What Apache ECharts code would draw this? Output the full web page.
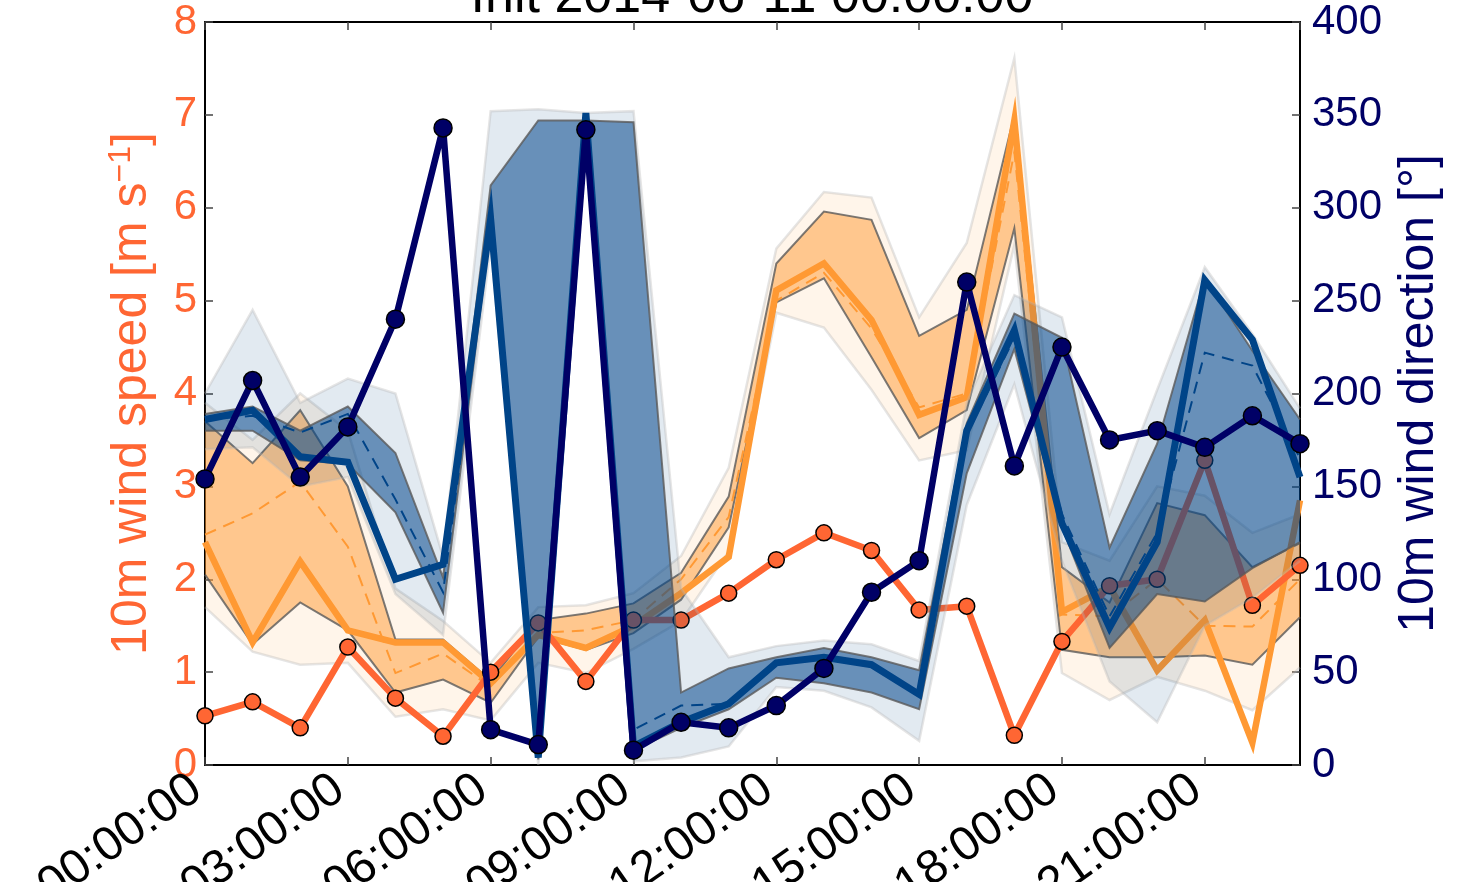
<!DOCTYPE html>
<html>
<head>
<meta charset="utf-8">
<script src="https://cdn.jsdelivr.net/npm/echarts@6/dist/echarts.min.js"></script>
<style>
html, body { margin: 0; background: #fff; }
#chart { width: 1479px; height: 882px; }
</style>
</head>
<body>
<div id="chart"></div>
<script>
// hours since init
const hours = [0, 1, 2, 3, 4, 5, 6, 7, 8, 9, 10, 11, 12, 13, 14, 15, 16, 17, 18, 19, 20, 21, 22, 23]

// 10m wind speed [m/s]
const obsSpeed = [0.53, 0.68, 0.40, 1.27, 0.72, 0.31, 1.0, 1.53, 0.90, 1.56, 1.56, 1.85, 2.21, 2.50, 2.31, 1.67, 1.71, 0.32, 1.33, 1.93, 2.0, 3.28, 1.72, 2.15]
const fcSpeed = [2.4, 1.32, 2.19, 1.45, 1.32, 1.32, 0.88, 1.4, 1.26, 1.5, 1.85, 2.24, 5.11, 5.4, 4.79, 3.77, 3.96, 6.94, 1.65, 1.92, 1.02, 1.56, 0.24, 2.85]
const fcSpeedMean = [2.48, 2.71, 3.05, 2.35, 0.99, 1.2, 0.84, 1.42, 1.45, 1.56, 2.0, 2.67, 5.0, 5.3, 4.7, 3.85, 4.0, 6.6, 1.62, 1.6, 2.0, 1.5, 1.49, 2.0]
const fcSpeedLo = [2.05, 1.3, 1.75, 1.45, 0.78, 0.92, 0.67, 1.38, 1.24, 1.42, 1.78, 2.56, 4.98, 5.24, 4.39, 3.52, 3.82, 5.78, 1.24, 1.16, 1.16, 1.18, 1.08, 1.59]
const fcSpeedHi = [3.7, 3.25, 3.82, 3.0, 1.35, 1.35, 0.91, 1.56, 1.63, 1.74, 2.07, 2.89, 5.4, 5.96, 5.87, 4.62, 4.9, 7.0, 2.13, 1.75, 2.82, 2.69, 2.13, 2.39]
const fcSpeedMin = [1.7, 1.22, 1.08, 1.1, 0.52, 0.6, 0.48, 1.1, 0.99, 1.25, 1.55, 2.3, 4.87, 4.71, 4.04, 3.28, 3.39, 5.6, 0.99, 0.7, 0.95, 0.8, 0.59, 1.05]
const fcSpeedMax = [3.9, 3.5, 4.0, 3.6, 1.9, 1.55, 1.1, 1.7, 1.72, 1.85, 2.25, 3.2, 5.56, 6.17, 6.11, 4.82, 5.62, 7.61, 2.4, 2.2, 3.0, 2.9, 2.5, 2.7]

// 10m wind direction [deg]
const obsDir = [154, 207, 155, 182, 240, 343, 19, 11, 342, 8, 23, 20, 32, 52, 93, 110, 260, 161, 225, 175, 180, 171, 188, 173]
const fcDir = [186, 191, 166, 163, 100, 108, 294, 4, 351, 10, 23, 33, 55, 58, 54, 38, 180, 234, 130, 74, 120, 261, 229, 155]
const fcDirMean = [186, 188, 179, 189, 143, 93, 290, 4, 345, 19, 32, 33, 55, 57, 54, 38, 178, 230, 135, 80, 125, 222, 215, 165]
const fcDirLo = [180, 180, 164, 162, 136, 82, 290, 3, 340, 8, 20, 30, 47, 44, 39, 30, 157, 224, 128, 63, 92, 88, 106, 120]
const fcDirHi = [189, 193, 180, 193, 168, 101, 312, 347, 347, 346, 39, 52, 58, 63, 58, 51, 184, 243, 230, 117, 173, 262, 223, 186]
const fcDirMin = [170, 171, 150, 155, 92, 70, 280, 0, 333, 2, 4, 10, 42, 40, 31, 13, 140, 205, 110, 45, 23, 75, 90, 110]
const fcDirMax = [200, 245, 195, 208, 200, 112, 352, 353, 351, 352, 95, 58, 64, 67, 65, 56, 195, 253, 241, 135, 202, 268, 232, 192]

const FONT = 'Liberation Sans, Arial, sans-serif'
const pad2 = v => (v < 10 ? '0' : '') + v

// filled band between two curves, edges drawn in gray
const band = (lo, hi, yIdx, fill, edge, edgeW, z) => ({
    type: 'custom',
    yAxisIndex: yIdx,
    z: z,
    data: hours.map((h, i) => [h, lo[i], hi[i]]),
    encode: { x: 0, y: [1, 2] },
    silent: true,
    renderItem: (params, api) => {
        if (params.dataIndex !== 0) return
        const top = hours.map((h, i) => api.coord([h, hi[i]]))
        const bot = hours.map((h, i) => api.coord([h, lo[i]]))
        return {
            type: 'group',
            children: [
                { type: 'polygon', shape: { points: top.concat(bot.slice().reverse()) }, style: { fill: fill } },
                { type: 'polyline', shape: { points: top }, style: { stroke: edge, lineWidth: edgeW, fill: null } },
                { type: 'polyline', shape: { points: bot }, style: { stroke: edge, lineWidth: edgeW, fill: null } }
            ]
        }
    }
})

const line = (vals, yIdx, color, width, dashed, z) => ({
    type: 'line',
    yAxisIndex: yIdx,
    z: z,
    data: hours.map((h, i) => [h, vals[i]]),
    symbol: 'none',
    lineStyle: { color: color, width: width, type: dashed ? [12, 8] : 'solid', join: 'miter' }
})

const obsLine = (vals, yIdx, color, width, size, z) => ({
    type: 'line',
    yAxisIndex: yIdx,
    z: z,
    data: hours.map((h, i) => [h, vals[i]]),
    symbol: 'circle',
    symbolSize: size,
    showAllSymbol: true,
    lineStyle: { color: color, width: width },
    itemStyle: { color: color, borderColor: '#000', borderWidth: 1.5 }
})

const frameLine = { onZero: false, lineStyle: { color: '#000', width: 2 } }
const innerTick = { show: true, inside: true, length: 8, lineStyle: { color: '#444', width: 1.5 } }

const chart = echarts.init(document.getElementById('chart'))

const option = {
    animation: false,
    grid: { left: 205, right: 179, top: 22, bottom: 117, outerBoundsMode: 'none', containLabel: false },
    graphic: [{
        type: 'text',
        x: 752,
        y: 24,
        style: { text: 'Init 2014-06-11 00:00:00', font: '52px ' + FONT, fill: '#000', align: 'center', verticalAlign: 'bottom' }
    }],
    xAxis: [{
        type: 'value',
        min: 0,
        max: 23,
        interval: 3,
        position: 'bottom',
        splitLine: { show: false },
        axisLine: frameLine,
        axisTick: innerTick,
        axisLabel: {
            rotate: 35,
            margin: 14,
            padding: [0, 10, 0, 0],
            showMaxLabel: false,
            color: '#000',
            fontSize: 48,
            fontFamily: FONT,
            formatter: v => v % 3 === 0 ? pad2(v) + ':00:00' : ''
        }
    }, {
        type: 'value',
        min: 0,
        max: 23,
        interval: 3,
        position: 'top',
        splitLine: { show: false },
        axisLine: frameLine,
        axisTick: innerTick,
        axisLabel: { show: false }
    }],
    yAxis: [{
        type: 'value',
        min: 0,
        max: 8,
        interval: 1,
        position: 'left',
        name: '10m wind speed [m s{sup|\u22121}]',
        nameLocation: 'middle',
        nameRotate: 90,
        nameGap: 46,
        nameTextStyle: {
            color: '#ff6633', fontSize: 50, fontFamily: FONT,
            rich: { sup: { fontSize: 32, verticalAlign: 'top', color: '#ff6633', fontFamily: FONT, padding: [0, 0, 22, 0] } }
        },
        splitLine: { show: false },
        axisLine: Object.assign({ show: true }, frameLine),
        axisTick: innerTick,
        axisLabel: { color: '#ff6633', fontSize: 42, fontFamily: FONT, margin: 8 }
    }, {
        type: 'value',
        min: 0,
        max: 400,
        interval: 50,
        position: 'right',
        name: '10m wind direction [\u00b0]',
        nameLocation: 'middle',
        nameRotate: 90,
        nameGap: 94,
        nameTextStyle: { color: '#000066', fontSize: 50, fontFamily: FONT },
        splitLine: { show: false },
        axisLine: Object.assign({ show: true }, frameLine),
        axisTick: innerTick,
        axisLabel: { color: '#000066', fontSize: 42, fontFamily: FONT, margin: 12 }
    }],
    series: [
        band(fcSpeedMin, fcSpeedMax, 0, 'rgba(255,153,51,0.1)', 'rgba(180,180,180,0.35)', 2.5, 1),
        band(fcSpeedLo, fcSpeedHi, 0, 'rgba(255,153,51,0.5)', 'rgba(90,90,90,0.8)', 2, 2),
        line(fcSpeedMean, 0, '#ff9933', 2, true, 3),
        line(fcSpeed, 0, '#ff9933', 6.5, false, 3),
        obsLine(obsSpeed, 0, '#ff6633', 6.5, 16, 4),
        band(fcDirMin, fcDirMax, 1, 'rgba(0,68,136,0.115)', 'rgba(180,180,180,0.35)', 2.5, 5),
        band(fcDirLo, fcDirHi, 1, 'rgba(0,68,138,0.54)', 'rgba(90,90,90,0.8)', 2, 6),
        line(fcDirMean, 1, '#004488', 2, true, 7),
        line(fcDir, 1, '#004488', 7, false, 7),
        obsLine(obsDir, 1, '#000066', 6.5, 18, 8)
    ]
}

chart.setOption(option)
</script>
</body>
</html>
